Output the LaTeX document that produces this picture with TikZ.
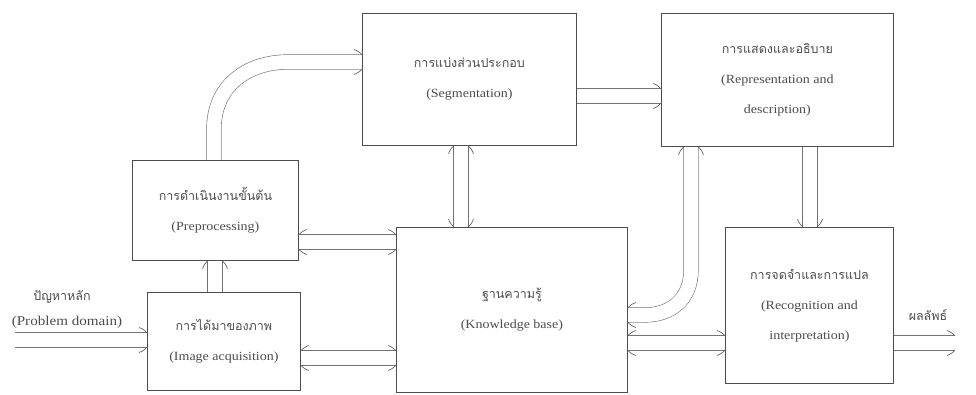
\documentclass[tikz,border=0pt]{standalone}
\usepackage{fontspec}
\setmainfont[FakeStretch=1.12]{Liberation Serif}
\newfontfamily\thai[Script=Thai]{Loma}
\usetikzlibrary{backgrounds,calc}
\tikzset{
  box/.style={draw=black!70, line width=0.8pt, anchor=north west, align=center,
    inner sep=0pt, font=\fontsize{12.5}{30}\selectfont, text=black!70},
  lbl/.style={font=\fontsize{12.5}{16}\selectfont, text=black!70, inner sep=0pt},
  harrow/.style={draw=black!55, line width=0.6pt, double=white, double distance=14pt},
  flareline/.style={draw=black!60, line width=0.7pt},
  flare/.pic={
    \draw[flareline] (0pt,7.3pt) .. controls (-2pt,9.5pt) and (-4pt,11pt) .. (-8pt,12.5pt);
    \draw[flareline] (0pt,-7.3pt) .. controls (-2pt,-9.5pt) and (-4pt,-11pt) .. (-8pt,-12.5pt);
  },
}
\begin{document}
\begin{tikzpicture}[x=1pt,y=-1pt]
\useasboundingbox (0,0) rectangle (976,394);
\node[box, minimum width=153pt, minimum height=98pt] (img) at (147,292)
  {{\thai การได้มาของภาพ}\\(Image acquisition)};
\node[box, minimum width=166pt, minimum height=100pt] (pre) at (132,160)
  {{\thai การดำเนินงานขั้นต้น}\\(Preprocessing)};
\node[box, minimum width=214pt, minimum height=132pt] (seg) at (362,13)
  {{\thai การแบ่งส่วนประกอบ}\\(Segmentation)};
\node[box, minimum width=232pt, minimum height=133pt] (rep) at (661,13)
  {{\thai การแสดงและอธิบาย}\\(Representation and\\description)};
\node[box, minimum width=231pt, minimum height=165pt] (kb) at (396,227)
  {{\thai ฐานความรู้}\\(Knowledge base)};
\node[box, minimum width=168pt, minimum height=156pt] (rec) at (725,227)
  {{\thai การจดจำและการแปล}\\(Recognition and\\interpretation)};
\node[lbl] (pdth) at (62,297) {\thai ปัญหาหลัก};
\node[lbl, font=\fontsize{13.5}{16}\selectfont] (pden) at (67,322) {(Problem domain)};
\node[lbl] (res) at (928,315) {\thai ผลลัพธ์};
\coordinate (pd) at (15,340);
\coordinate (out) at (955,343);
\begin{scope}[on background layer]
% problem domain -> image acquisition
\draw[harrow] (pd) -- (pd -| img.west);
\pic at (pd -| img.west) {flare};
% image acquisition -> preprocessing
\draw[harrow] (img.north -| 215,0) -- (pre.south -| 215,0);
\pic[rotate=90] at (pre.south -| 215,0) {flare};
% preprocessing -> segmentation
\draw[harrow] (pre.north -| 214,0) -- (214,128)
  .. controls (214,88) and (245,62) .. (288,62) -- (seg.west |- 0,62);
\pic at (seg.west |- 0,62) {flare};
% preprocessing <-> knowledge base
\draw[harrow] (pre.east |- 0,242) -- (kb.west |- 0,242);
\pic[rotate=180] at (pre.east |- 0,242) {flare};
\pic at (kb.west |- 0,242) {flare};
% image acquisition <-> knowledge base
\draw[harrow] (img.east |- 0,358) -- (kb.west |- 0,358);
\pic[rotate=180] at (img.east |- 0,358) {flare};
\pic at (kb.west |- 0,358) {flare};
% segmentation <-> knowledge base
\draw[harrow] (seg.south -| 461,0) -- (kb.north -| 461,0);
\pic[rotate=90] at (seg.south -| 461,0) {flare};
\pic[rotate=-90] at (kb.north -| 461,0) {flare};
% segmentation -> representation
\draw[harrow] (seg.east |- 0,96) -- (rep.west |- 0,96);
\pic at (rep.west |- 0,96) {flare};
% representation <-> knowledge base
\draw[harrow] (rep.south -| 691,0) -- (691,270)
  .. controls (691,300) and (670,315) .. (645,315) -- (kb.east |- 0,315);
\pic[rotate=90] at (rep.south -| 691,0) {flare};
\pic[rotate=180] at (kb.east |- 0,315) {flare};
% representation -> recognition
\draw[harrow] (rep.south -| 810,0) -- (rec.north -| 810,0);
\pic[rotate=-90] at (rec.north -| 810,0) {flare};
% knowledge base <-> recognition
\draw[harrow] (kb.east |- 0,343) -- (rec.west |- 0,343);
\pic[rotate=180] at (kb.east |- 0,343) {flare};
\pic at (rec.west |- 0,343) {flare};
% recognition -> result
\draw[harrow] (rec.east |- 0,343) -- (out);
\pic at (out) {flare};
\end{scope}
\end{tikzpicture}
\end{document}
